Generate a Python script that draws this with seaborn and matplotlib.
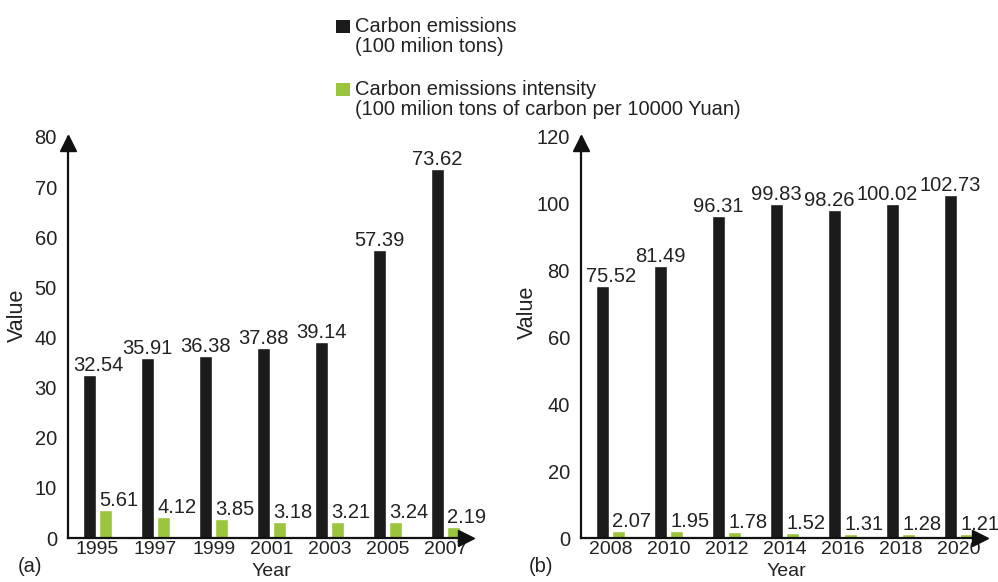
import matplotlib
matplotlib.use("Agg")
import matplotlib.pyplot as plt
import seaborn as sns
import pandas as pd
from matplotlib.patches import Rectangle

# ---- data -------------------------------------------------------------
years_a = ["1995", "1997", "1999", "2001", "2003", "2005", "2007"]
emissions_a = [32.54, 35.91, 36.38, 37.88, 39.14, 57.39, 73.62]
intensity_a = [5.61, 4.12, 3.85, 3.18, 3.21, 3.24, 2.19]

years_b = ["2008", "2010", "2012", "2014", "2016", "2018", "2020"]
emissions_b = [75.52, 81.49, 96.31, 99.83, 98.26, 100.02, 102.73]
intensity_b = [2.07, 1.95, 1.78, 1.52, 1.31, 1.28, 1.21]

series = ["Carbon emissions", "Carbon emissions intensity"]
series_units = ["(100 milion tons)", "(100 milion tons of carbon per 10000 Yuan)"]

# ---- style ------------------------------------------------------------
BLACK = "#1b1b1b"
GREEN = "#9bc53d"
TEXT = "#222222"
FS = 14.5
FS_XTICK = 14
FS_LABEL = 15.5
FS_XLABEL = 14

sns.set_theme(style="white")
plt.rcParams["font.family"] = ["Liberation Sans", "DejaVu Sans"]
plt.rcParams["text.color"] = TEXT

W, H = 998, 582
fig = plt.figure(figsize=(W / 100, H / 100), dpi=100)


def px_box(x0, x1, ytop, ybot):
    return [x0 / W, 1 - ybot / H, (x1 - x0) / W, (ybot - ytop) / H]


def panel(ax, years, emis, inten, ymax, ystep, xmax, emis_shift, xlab_x, ylab_xy):
    df = pd.DataFrame({
        "Year": years * 2,
        "Series": [series[0]] * len(years) + [series[1]] * len(years),
        "Value": list(emis) + list(inten),
    })
    sns.barplot(data=df, x="Year", y="Value", hue="Series", order=years,
                hue_order=series, palette=[BLACK, GREEN], saturation=1,
                width=0.56, gap=0.2, legend=False, ax=ax)

    for i, (p, v) in enumerate(zip(ax.containers[0], emis)):
        ax.annotate(f"{v:.2f}", (p.get_x() + p.get_width() / 2, v),
                    xytext=(emis_shift[i], 4), textcoords="offset pixels",
                    ha="center", va="baseline", fontsize=FS, color=TEXT)
    for p, v in zip(ax.containers[1], inten):
        ax.annotate(f"{v:.2f}", (p.get_x(), v), xytext=(0, 4),
                    textcoords="offset pixels", ha="left", va="baseline",
                    fontsize=FS, color=TEXT)

    ax.set_ylim(0, ymax)
    ax.set_yticks(range(0, ymax + 1, ystep))
    ax.set_xlim(-0.51, xmax)
    ax.tick_params(axis="both", length=0, colors=TEXT)
    ax.tick_params(axis="x", pad=2, labelsize=FS_XTICK)
    ax.tick_params(axis="y", pad=8, labelsize=FS)

    sns.despine(ax=ax)
    for s in ("left", "bottom"):
        ax.spines[s].set_linewidth(1.6)
        ax.spines[s].set_color("#111111")

    # arrow heads at the ends of both axes
    ax.plot([0], [0.986], marker="^", ms=11, color="#111111",
            transform=ax.transAxes, clip_on=False)
    ax.plot([1.0], [0], marker=">", ms=11, color="#111111",
            transform=ax.transAxes, clip_on=False)

    ax.set_xlabel("Year", fontsize=FS_XLABEL, color=TEXT)
    ax.xaxis.set_label_coords(xlab_x, -0.0615)
    ax.set_ylabel("Value", fontsize=FS_LABEL, color=TEXT)
    ax.yaxis.set_label_coords(*ylab_xy)


ax_a = fig.add_axes(px_box(68, 466, 137, 538))
panel(ax_a, years_a, emissions_a, intensity_a, 80, 10, 6.35,
      [9, 0, 0, 0, 0, 0, 0], 0.51, (-0.10, 0.556))

ax_b = fig.add_axes(px_box(581, 980, 137, 538))
panel(ax_b, years_b, emissions_b, intensity_b, 120, 20, 6.37,
      [9, 0, 0, 0, -5, -5, 0], 0.514, (-0.108, 0.564))

fig.text(30 / W, 1 - 567 / H, "(a)", ha="center", va="center", fontsize=FS, color=TEXT)
fig.text(541 / W, 1 - 567 / H, "(b)", ha="center", va="center", fontsize=FS, color=TEXT)

# ---- legend -----------------------------------------------------------
legend_rows = [(BLACK, 20, 32, 52), (GREEN, 83, 95, 115)]
for (color, sq_top, base1, base2), name, unit in zip(legend_rows, series, series_units):
    fig.add_artist(Rectangle((336 / W, 1 - (sq_top + 13) / H), 14 / W, 13 / H,
                             transform=fig.transFigure, color=color, lw=0))
    fig.text(355 / W, 1 - base1 / H, name, va="baseline", fontsize=FS, color=TEXT)
    fig.text(355 / W, 1 - base2 / H, unit, va="baseline", fontsize=FS, color=TEXT)

fig.savefig("out.png", dpi=100, facecolor="white")
